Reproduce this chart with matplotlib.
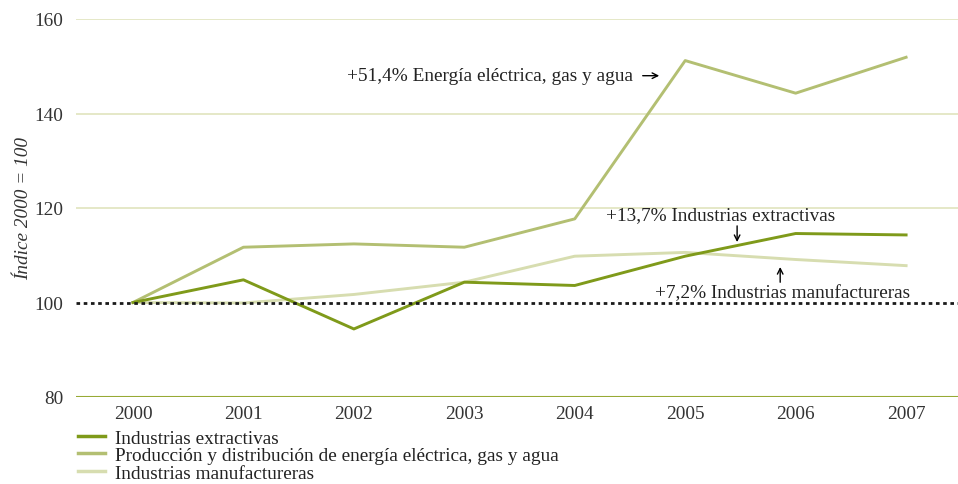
import matplotlib
matplotlib.use("Agg")
import matplotlib.pyplot as plt
from matplotlib.lines import Line2D

years = [2000, 2001, 2002, 2003, 2004, 2005, 2006, 2007]
extractivas = [100, 104.8, 94.4, 104.3, 103.6, 109.8, 114.6, 114.3]
energia = [100, 111.7, 112.4, 111.7, 117.7, 151.2, 144.3, 151.9]
manufactureras = [100, 99.9, 101.7, 104.3, 109.8, 110.6, 109.1, 107.8]
labels = ["Industrias extractivas",
          "Producción y distribución de energía eléctrica, gas y agua",
          "Industrias manufactureras"]
yticks = [80, 100, 120, 140, 160]

c_ext = "#7f9a1a"
c_ene = "#b3bf72"
c_man = "#d7ddb0"
c_grid = "#e0e4bd"
c_axis = "#97aa35"

plt.rcParams['font.family'] = ['Liberation Serif', 'DejaVu Serif']
fs = 13.9

fig = plt.figure(figsize=(9.58, 4.85), dpi=100)
W, H = 958, 485
ax = fig.add_axes([76 / W, 1 - 398 / H, (958 - 76) / W, (398 - 20) / H])

ax.set_ylim(80, 160)
ax.set_xlim(1999.484, 2007.47)
ax.set_yticks(yticks)
ax.set_xticks(years)
for y in yticks[1:]:
    if y != 100:
        ax.axhline(y, color=c_grid, lw=1.2, zorder=0)
ax.axhline(80, color=c_axis, lw=1.5, zorder=1)

l3, = ax.plot(years, manufactureras, color=c_man, lw=2.1, zorder=2)
l2, = ax.plot(years, energia, color=c_ene, lw=2.1, zorder=3)
l1, = ax.plot(years, extractivas, color=c_ext, lw=2.1, zorder=4)
ax.axhline(100, color="#1a1a1a", lw=2, ls=(0, (1.3, 1.3)), zorder=5)

for s in ax.spines.values():
    s.set_visible(False)
ax.tick_params(length=0, labelsize=fs, colors="#333333")
ax.tick_params(axis='y', pad=9)
ax.tick_params(axis='x', pad=6)
ax.set_ylabel("Índice 2000 = 100", fontsize=fs, style='italic', color="#333333", labelpad=2)

ax.annotate("", xy=(2004.79, 148.0), xytext=(2004.59, 148.0),
            arrowprops=dict(arrowstyle='->', color='black', lw=1))
ax.text(2004.53, 148.0, "+51,4% Energía eléctrica, gas y agua", ha='right', va='center',
        fontsize=fs, color="#222222")

ax.annotate("", xy=(2005.47, 112.2), xytext=(2005.47, 116.8),
            arrowprops=dict(arrowstyle='->', color='black', lw=1))
ax.text(2005.32, 118.5, "+13,7% Industrias extractivas", ha='center', va='center',
        fontsize=fs, color="#222222")

ax.annotate("", xy=(2005.86, 108.1), xytext=(2005.86, 103.7),
            arrowprops=dict(arrowstyle='->', color='black', lw=1))
ax.text(2005.88, 102.1, "+7,2% Industrias manufactureras", ha='center', va='center',
        fontsize=fs, color="#222222")

handles = [Line2D([], [], color=c, lw=2.5) for c in (c_ext, c_ene, c_man)]
fig.legend(handles, labels, loc='upper left', bbox_to_anchor=(78 / W, 1 - 430 / H),
           frameon=False, fontsize=fs, handlelength=1.4, handletextpad=0.52,
           labelspacing=0.0, borderpad=0, borderaxespad=0, labelcolor="#222222")

fig.savefig("out.png", dpi=100)
